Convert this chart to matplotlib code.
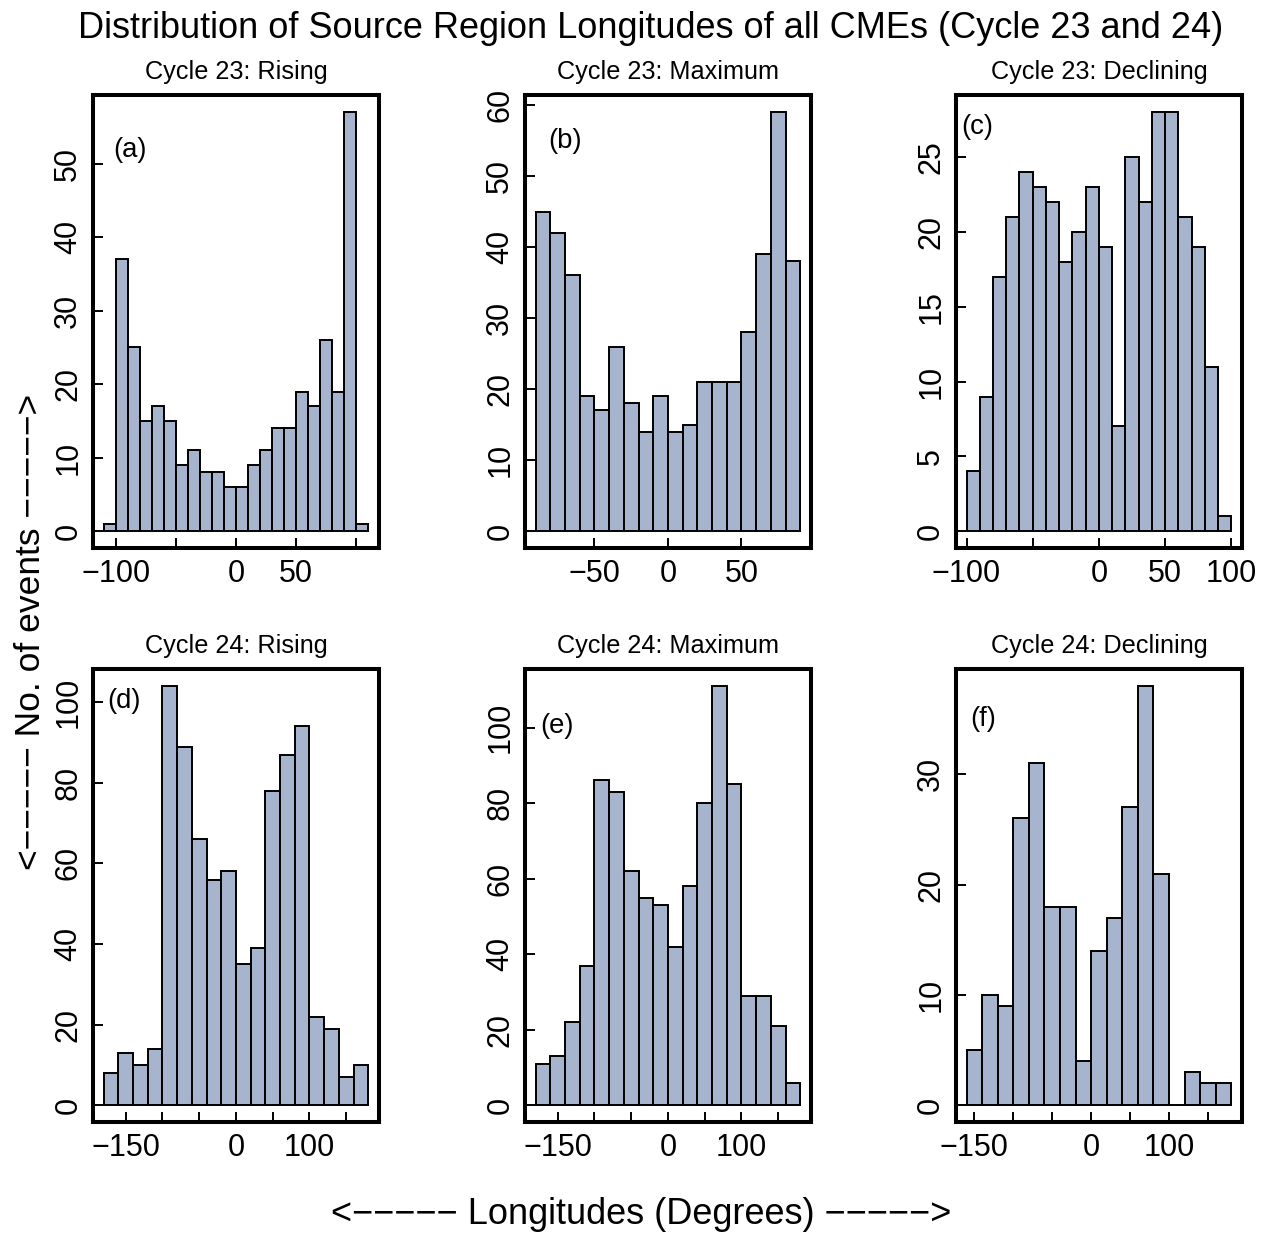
import numpy as np
import matplotlib
matplotlib.use('Agg')
import matplotlib.pyplot as plt

plt.rcParams['font.family'] = ['Liberation Sans', 'DejaVu Sans']

# histogram counts per panel (bins of fixed width starting at bin_start)
counts_a = [1, 37, 25, 15, 17, 15, 9, 11, 8, 8, 6, 6, 9, 11, 14, 14, 19, 17, 26, 19, 57, 1]
counts_b = [45, 42, 36, 19, 17, 26, 18, 14, 19, 14, 15, 21, 21, 21, 28, 39, 59, 38]
counts_c = [4, 9, 17, 21, 24, 23, 22, 18, 20, 23, 19, 7, 25, 22, 28, 28, 21, 19, 11, 1]
counts_d = [8, 13, 10, 14, 104, 89, 66, 56, 58, 35, 39, 78, 87, 94, 22, 19, 7, 10]
counts_e = [11, 13, 22, 37, 86, 83, 62, 55, 53, 42, 58, 80, 111, 85, 29, 29, 21, 6]
counts_f = [5, 10, 9, 26, 31, 18, 18, 4, 14, 17, 27, 38, 21, 0, 3, 2, 2]

bin_start = [-110, -90, -100, -180, -180, -160]
bin_width = [10, 10, 10, 20, 20, 20]

titles = ['Cycle 23: Rising', 'Cycle 23: Maximum', 'Cycle 23: Declining',
          'Cycle 24: Rising', 'Cycle 24: Maximum', 'Cycle 24: Declining']
panel_tags = ['(a)', '(b)', '(c)', '(d)', '(e)', '(f)']

xticks_a = [-100, -50, 0, 50, 100]
xlabels_a = ['\u2212100', '', '0', '50', '']
xticks_b = [-50, 0, 50]
xlabels_b = ['\u221250', '0', '50']
xticks_c = [-100, -50, 0, 50, 100]
xlabels_c = ['\u2212100', '', '0', '50', '100']
xticks_24 = [-150, -100, -50, 0, 50, 100, 150]
xlabels_24 = ['\u2212150', '', '', '0', '', '100', '']

yticks = [range(0, 51, 10), range(0, 61, 10), range(0, 26, 5),
          range(0, 101, 20), range(0, 101, 20), range(0, 31, 10)]

all_counts = [counts_a, counts_b, counts_c, counts_d, counts_e, counts_f]
all_xticks = [xticks_a, xticks_b, xticks_c, xticks_24, xticks_24, xticks_24]
all_xlabels = [xlabels_a, xlabels_b, xlabels_c, xlabels_24, xlabels_24, xlabels_24]

# where the (a)..(f) tags sit, axes fraction
tag_pos = [(0.07, 0.88), (0.08, 0.90), (0.02, 0.93), (0.05, 0.93), (0.055, 0.875), (0.05, 0.89)]

bar_color = '#A6B4CD'

fig = plt.figure(figsize=(12.65, 12.36), dpi=100)

lefts = [0.0735, 0.415, 0.7557]
bottoms = [0.5566, 0.0922]
w, h = 0.226, 0.3663

for i in range(6):
    ax = fig.add_axes([lefts[i % 3], bottoms[i // 3], w, h])
    counts = np.array(all_counts[i])
    edges = bin_start[i] + bin_width[i] * np.arange(len(counts) + 1)
    ax.bar(edges[:-1], counts, width=bin_width[i], align='edge',
           color=bar_color, edgecolor='black', linewidth=1.4)

    rng = edges[-1] - edges[0]
    ax.set_xlim(edges[0] - 0.04 * rng, edges[-1] + 0.04 * rng)
    ymax = counts.max()
    ax.set_ylim(-0.04 * ymax, 1.04 * ymax)

    ax.set_xticks(all_xticks[i])
    ax.set_xticklabels(all_xlabels[i])
    ax.set_yticks(list(yticks[i]))
    ax.set_yticklabels([str(v) for v in yticks[i]], rotation=90, va='center')
    ax.tick_params(axis='both', direction='in', length=7, width=1.4, labelsize=22)
    ax.tick_params(axis='x', pad=8)
    ax.tick_params(axis='y', pad=7)
    for sp in ax.spines.values():
        sp.set_linewidth(2.9)

    ax.set_title(titles[i], fontsize=18.2, pad=12)
    ax.text(tag_pos[i][0], tag_pos[i][1], panel_tags[i], transform=ax.transAxes,
            fontsize=19.8, ha='left', va='center')

fig.text(0.514, 0.977, 'Distribution of Source Region Longitudes of all CMEs (Cycle 23 and 24)',
         fontsize=26, ha='center', va='center')
fig.text(0.507, 0.017, '<\u2212\u2212\u2212\u2212\u2212 Longitudes (Degrees) \u2212\u2212\u2212\u2212\u2212>',
         fontsize=26, ha='center', va='center')
fig.text(0.024, 0.489, '<\u2212\u2212\u2212\u2212\u2212 No. of events \u2212\u2212\u2212\u2212\u2212>',
         fontsize=25.5, ha='center', va='center', rotation=90)

fig.savefig('out.png', dpi=100)
